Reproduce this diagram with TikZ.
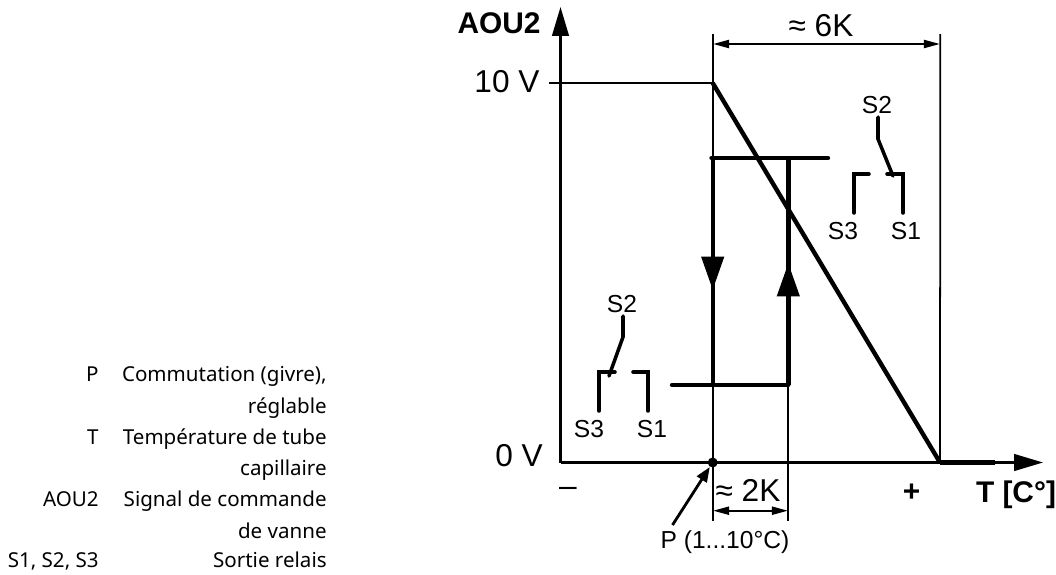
\documentclass[tikz,border=0pt]{standalone}
\usepackage{fontspec}
\setmainfont{Liberation Sans}
\newfontfamily\legendfont{Noto Sans}
\usetikzlibrary{arrows.meta}
\tikzset{
  axisline/.style={line width=1.3pt},
  thinline/.style={line width=1pt},
  heavyline/.style={line width=2.5pt},
  contactline/.style={line width=2pt,line cap=round,line join=miter},
  axistip/.style={-{Triangle[length=16.5pt,width=9.5pt]}},
  flowtip/.style={-{Triangle[length=19pt,width=12.5pt]}},
  dimtip/.style={{Triangle[length=9pt,width=4.6pt]}-{Triangle[length=9pt,width=4.6pt]}},
  biglabel/.style={inner sep=0pt,font=\fontsize{18}{20}\selectfont},
  boldlabel/.style={inner sep=0pt,font=\fontsize{17}{20}\selectfont\bfseries},
  contactlabel/.style={inner sep=0pt,font=\fontsize{14}{16}\selectfont},
  legendkey/.style={inner sep=0pt,anchor=base east,font=\legendfont\fontsize{11.7}{13}\selectfont},
}
\begin{document}
\begin{tikzpicture}[x=0.02cm,y=-0.02cm]
\useasboundingbox (0,0) rectangle (1056,575);

\coordinate (origin) at (560.5,462.5);
\coordinate (ytop) at (560.5,7);
\coordinate (xend) at (1043,462.5);
\coordinate (tickleft) at (549,83);
\coordinate (start) at (712.7,83);
\coordinate (stop) at (940,462.5);
\coordinate (pbase) at (712.7,462.5);

% axes
\draw [axisline,axistip] (origin) -- (ytop);
\draw [axisline,axistip] (origin) -- (xend);
\draw [axisline] (tickleft) -- (start);
\draw [heavyline] (stop) -- (995,462.5);

% guide lines
\draw [thinline] (712.7,34) -- (712.7,520.5);
\draw [thinline] (788.3,385) -- (788.3,520.5);
\draw [thinline] (940.3,34) -- (stop);

% ramp
\draw [heavyline] (start) -- (stop);

% hysteresis
\draw [heavyline,line cap=round] (711.5,158) -- (828,158);
\draw [heavyline,line cap=round] (672,385) -- (788.3,385);
\draw [heavyline] (712.7,158) -- (712.7,385);
\draw [heavyline] (788.3,158) -- (788.3,385);
\draw [heavyline,flowtip] (712.7,250) -- (712.7,290);
\draw [heavyline,flowtip] (788.3,305) -- (788.3,263);

% dimensions
\draw [thinline,dimtip] (713.2,44) -- (939.8,44);
\draw [thinline,dimtip] (713.2,510.7) -- (787.8,510.7);

% switch point
\node [circle,fill=black,inner sep=0pt,minimum size=5.7pt] (pdot) at (pbase) {};
\coordinate (ptail) at (672.5,525);
\draw [line width=1.6pt,-{Triangle[length=8.5pt,width=6.5pt]}] (ptail) -- (pdot);

% upper switch
\draw [contactline] (878,117) -- (878,139) -- (893,176);
\draw [contactline] (887,174) -- (903,174) -- (903,213);
\draw [contactline] (869,174) -- (854,174) -- (854,213);
\node [contactlabel] (sa2) at (877,105) {S2};
\node [contactlabel] (sa3) at (843,231) {S3};
\node [contactlabel] (sa1) at (906,231) {S1};

% lower switch
\draw [contactline] (623,316) -- (623,337) -- (609,376);
\draw [contactline] (615,372) -- (599,372) -- (599,411);
\draw [contactline] (633,372) -- (648,372) -- (648,411);
\node [contactlabel] (sb2) at (622,304) {S2};
\node [contactlabel] (sb3) at (589,429) {S3};
\node [contactlabel] (sb1) at (652,429) {S1};

% axis labels
\node [boldlabel] (ylabel) at (499,23) {AOU2};
\node [boldlabel] (xlabel) at (1016,495) {T [C°]};
\node [biglabel] (tenv) at (507,82) {10 V};
\node [biglabel] (zerov) at (519,456) {0 V};
\node [biglabel] (minus) at (568,492) {–};
\node [boldlabel] (plus) at (911.7,493) {+};
\node [biglabel] (six) at (821,26) {≈ 6K};
\node [biglabel] (two) at (748,490) {≈ 2K};
\node [contactlabel] (plabel) at (725,541.7) {P (1...10°C)};

% legend
\node [legendkey] (kp) at (99,381.7) {P};
\node [legendkey] (kt) at (99,444.3) {T};
\node [legendkey] (ka) at (99,506.9) {AOU2};
\node [legendkey] (ks) at (99,567) {S1, S2, S3};
\node [legendkey] (vp) at (327,381.7) {Commutation (givre),};
\node [legendkey] (vpb) at (327,413) {réglable};
\node [legendkey] (vt) at (327,444.3) {Température de tube};
\node [legendkey] (vtb) at (327,475.6) {capillaire};
\node [legendkey] (va) at (327,506.9) {Signal de commande};
\node [legendkey] (vab) at (327,538.2) {de vanne};
\node [legendkey] (vs) at (327,567) {Sortie relais};
\end{tikzpicture}
\end{document}
